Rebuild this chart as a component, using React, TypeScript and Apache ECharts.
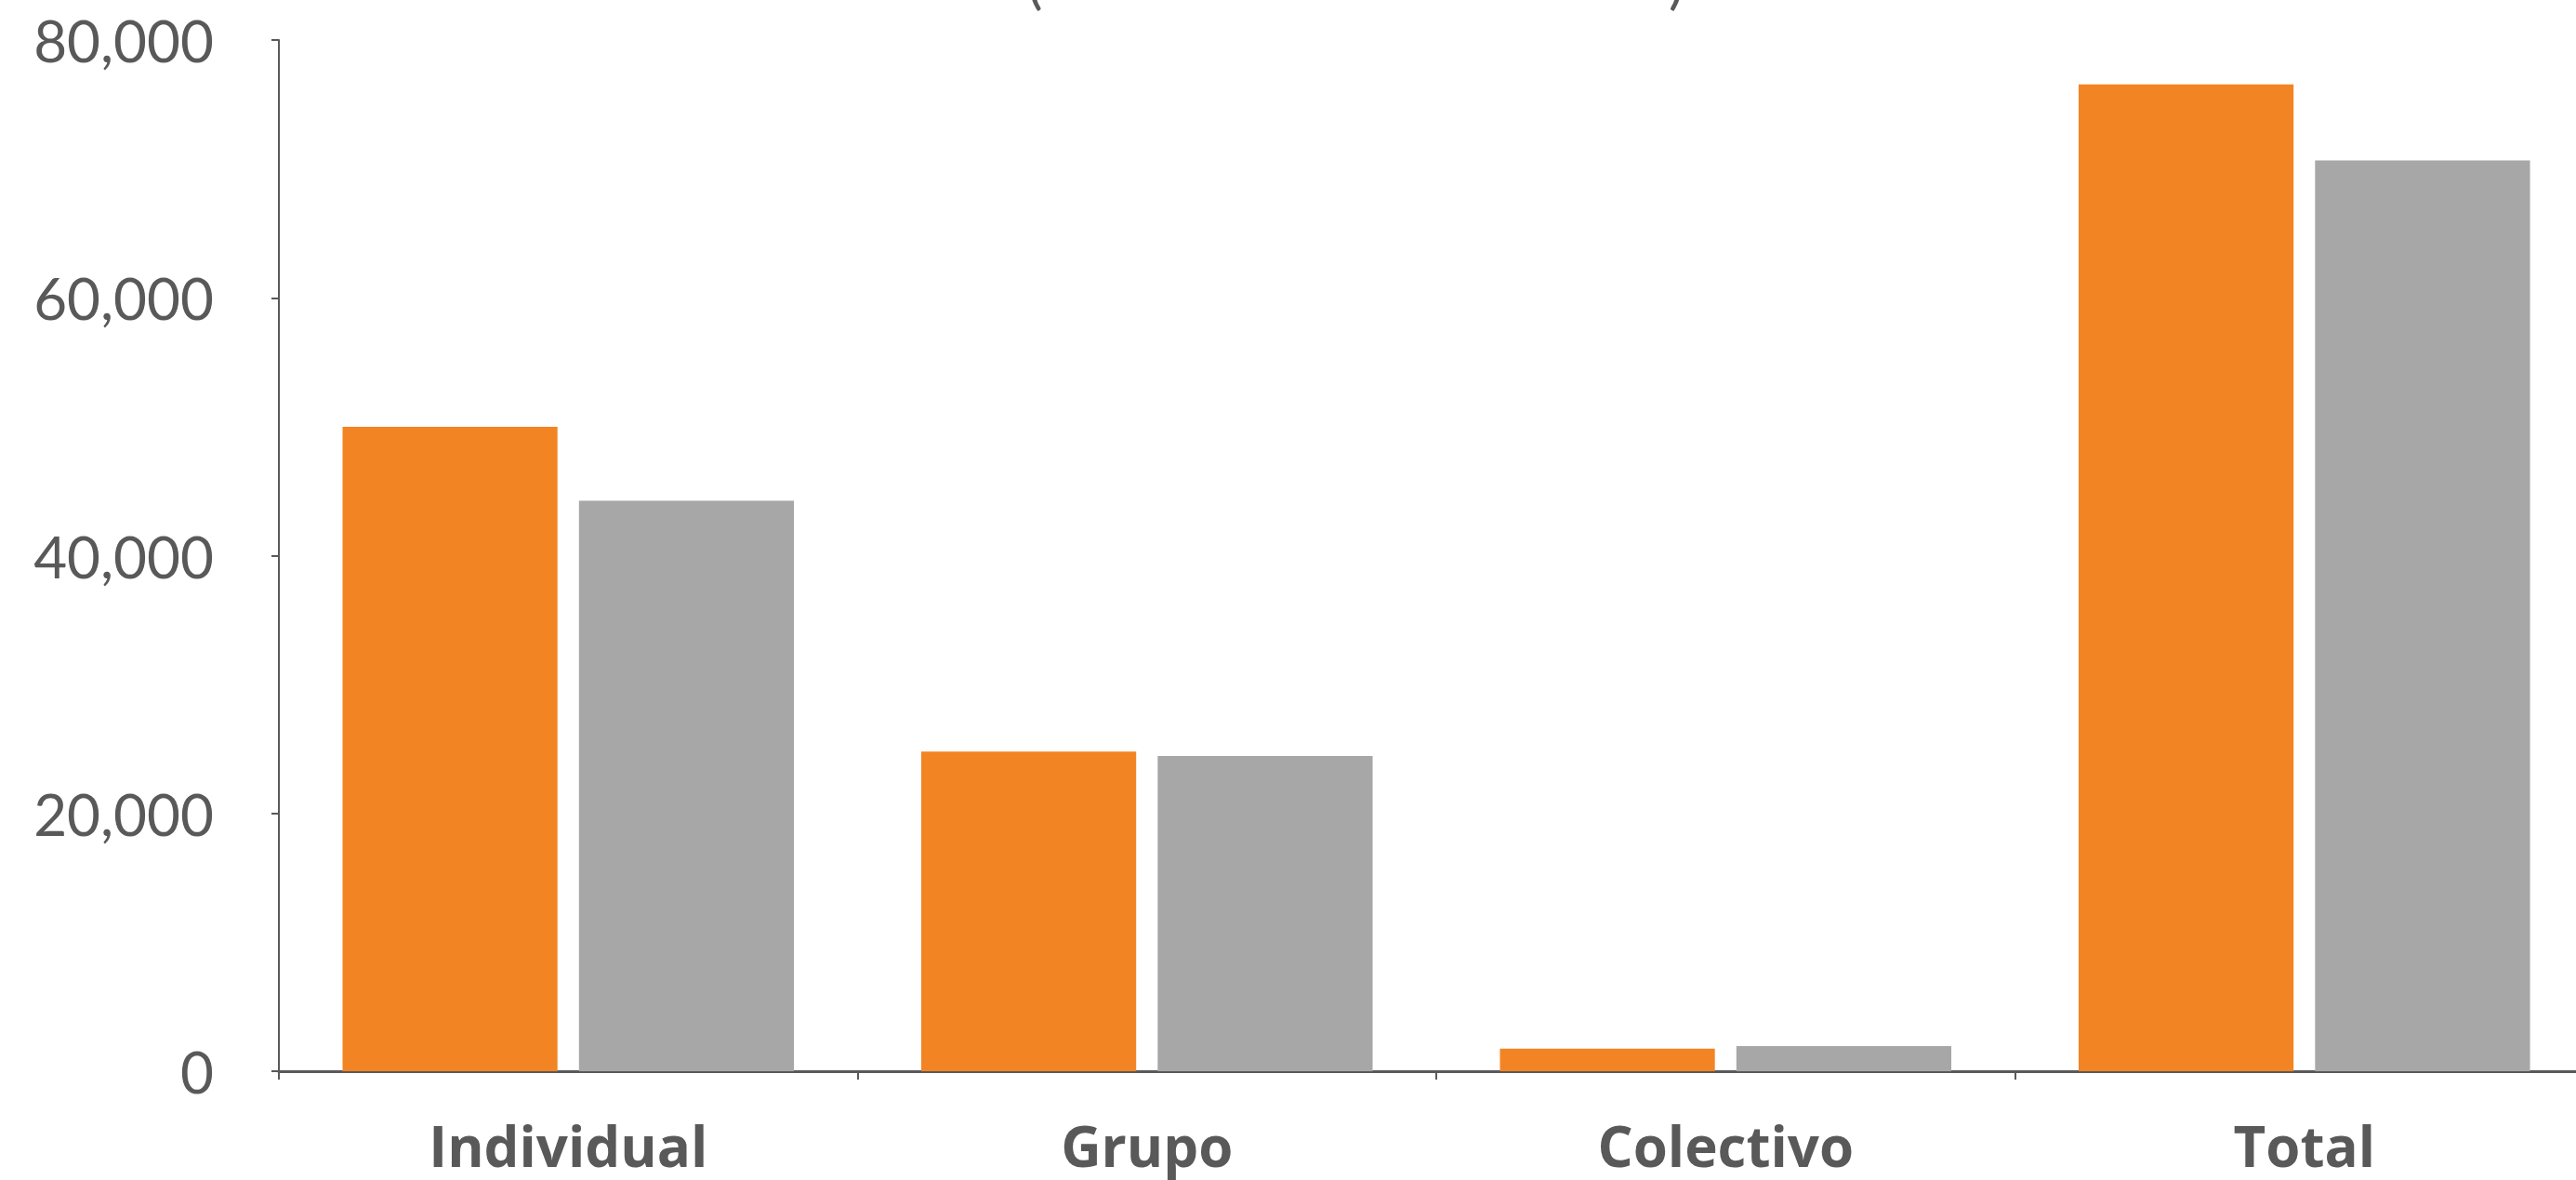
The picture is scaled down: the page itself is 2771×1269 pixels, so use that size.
import React, { useEffect, useRef } from "react";
import * as echarts from "echarts";

const categories = ["Individual", "Grupo", "Colectivo", "Total"];
const seriesOrange = [50000, 24800, 1750, 76550];
const seriesGray = [44250, 24450, 1950, 70650];
const yTicks = [0, 20000, 40000, 60000, 80000];

const TEXT = "#595959";

export default function App() {
  const ref = useRef<HTMLDivElement>(null);
  useEffect(() => {
    document.body.style.margin = "0";
    document.body.style.overflow = "hidden";
    const chart = echarts.init(ref.current!, undefined, { renderer: "svg" });
    chart.setOption({
      animation: false,
      backgroundColor: "#ffffff",
      graphic: [
        {
          type: "text",
          left: 1105,
          top: -52,
          style: { text: "(", fontFamily: "Lato", fontWeight: 400, fontSize: 62, fill: TEXT },
        },
        {
          type: "text",
          left: 1795,
          top: -52,
          style: { text: ")", fontFamily: "Lato", fontWeight: 400, fontSize: 62, fill: TEXT },
        },
      ],
      grid: { left: 300, top: 43, width: 2490, height: 1109, containLabel: false },
      xAxis: {
        type: "category",
        data: categories,
        axisLine: { show: true, lineStyle: { color: TEXT, width: 3 } },
        axisTick: { show: true, length: 9, lineStyle: { color: TEXT, width: 2 } },
        axisLabel: {
          margin: 55,
          color: TEXT,
          fontFamily: "Open Sans",
          fontWeight: "bold",
          fontSize: 60,
          lineHeight: 50,
        },
        splitLine: { show: false },
      },
      yAxis: {
        type: "value",
        min: yTicks[0],
        max: yTicks[yTicks.length - 1],
        interval: 20000,
        axisLine: { show: true, lineStyle: { color: TEXT, width: 2 } },
        axisTick: { show: true, length: 8, lineStyle: { color: TEXT, width: 2 } },
        splitLine: { show: false },
        axisLabel: {
          margin: 70,
          color: TEXT,
          fontFamily: "Lato",
          fontWeight: 400,
          fontSize: 62,
          formatter: (v: number) => v.toLocaleString("en-US"),
        },
      },
      series: [
        {
          type: "bar",
          data: seriesOrange,
          itemStyle: { color: "#F38424" },
          barGap: "10%",
          barCategoryGap: "22%",
        },
        {
          type: "bar",
          data: seriesGray,
          itemStyle: { color: "#A7A7A7" },
          barGap: "10%",
          barCategoryGap: "22%",
        },
      ],
    });
    return () => chart.dispose();
  }, []);
  return (
    <div
      style={{ position: "absolute", left: 0, top: 0, width: 2771, height: 1269, overflow: "hidden" }}
    >
      <div ref={ref} style={{ width: 2800, height: 1269 }} />
    </div>
  );
}
